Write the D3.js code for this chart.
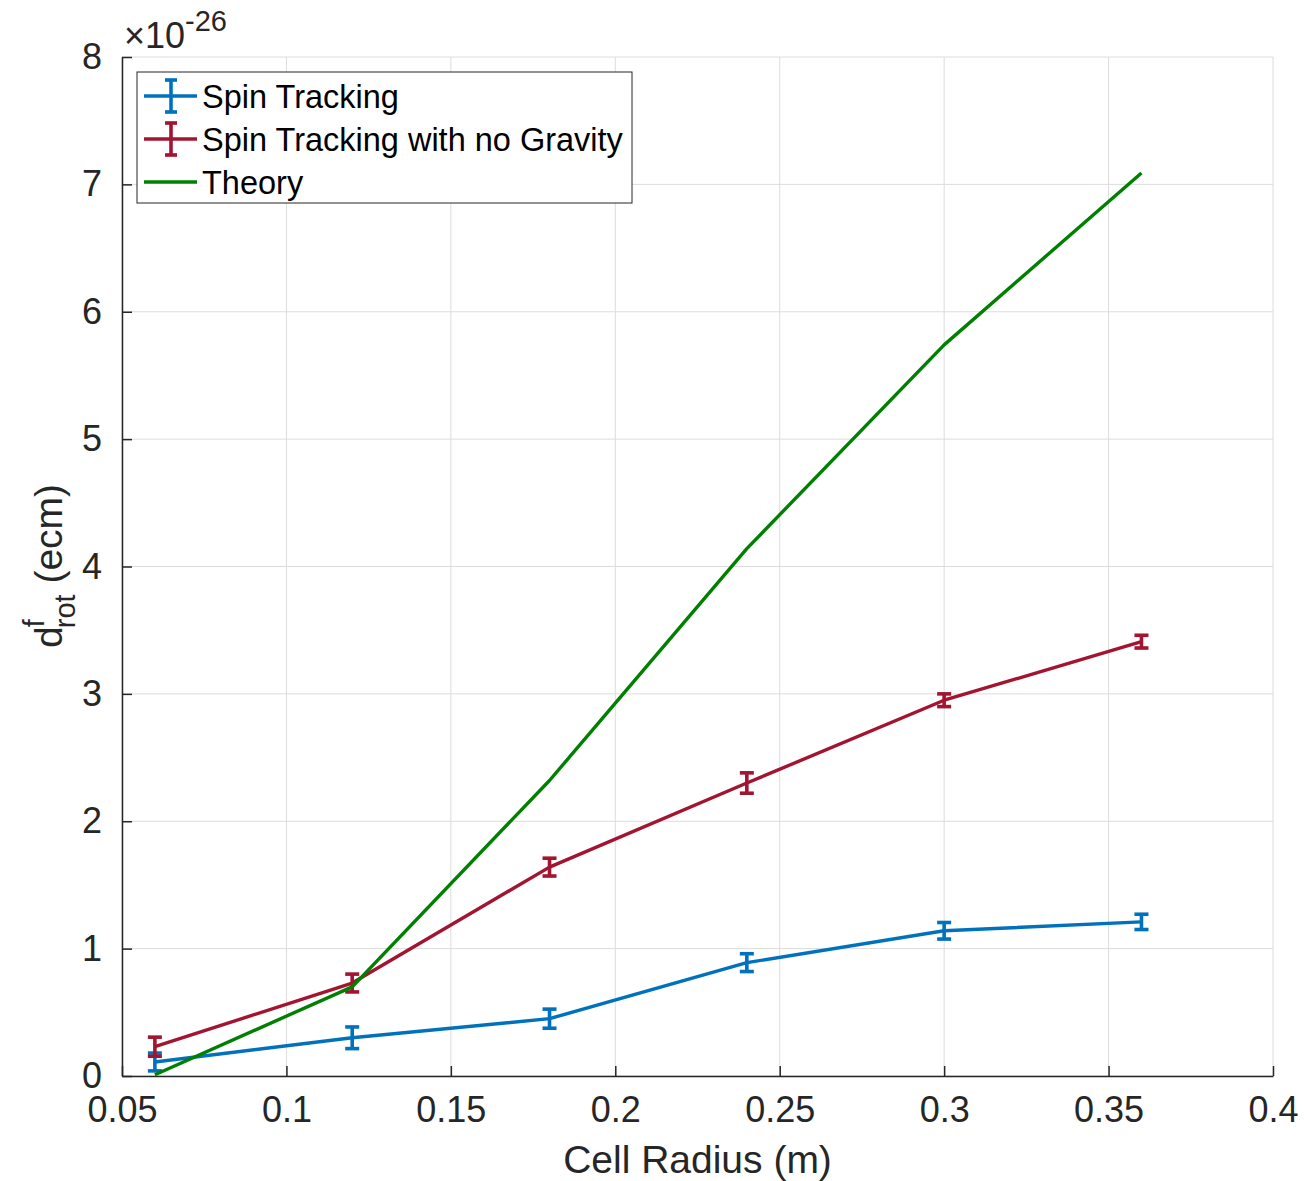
<!DOCTYPE html>
<html>
<head>
<meta charset="utf-8">
<script src="https://cdn.jsdelivr.net/npm/d3@7"></script>
<style>
  body { margin: 0; background: #fff; }
  svg { font-family: "Liberation Sans", Arial, sans-serif; }
</style>
</head>
<body>
<div id="chart"></div>
<script>
// cell radius (m)
var radius = [0.06, 0.12, 0.18, 0.24, 0.30, 0.36];
// values in units of 1e-26 ecm
var spinTracking = [0.11, 0.30, 0.45, 0.89, 1.14, 1.21];
var spinTrackingErr = [0.07, 0.085, 0.075, 0.07, 0.065, 0.06];
var noGravity = [0.23, 0.73, 1.64, 2.30, 2.95, 3.41];
var noGravityErr = [0.075, 0.07, 0.07, 0.08, 0.05, 0.05];
var theory = [0.01, 0.70, 2.32, 4.14, 5.74, 7.09];
var xTicks = [0.05, 0.1, 0.15, 0.2, 0.25, 0.3, 0.35, 0.4];
var yTicks = [0, 1, 2, 3, 4, 5, 6, 7, 8];

var W = 1304, H = 1181;
var m = {left: 122, right: 1304 - 1273, top: 57, bottom: H - 1076};

var svg = d3.select('#chart').append('svg')
    .attr('width', W)
    .attr('height', H);

var x = d3.scaleLinear().domain([0.05, 0.4]).range([m.left, W - m.right]);
var y = d3.scaleLinear().domain([0, 8]).range([H - m.bottom, m.top]);

var axisColor = '#262626';
var fs = 36;

// grid
svg.append('g').selectAll('line.gx')
    .data(xTicks).enter().append('line')
    .attr('x1', function (d) { return x(d); })
    .attr('x2', function (d) { return x(d); })
    .attr('y1', y(0)).attr('y2', y(8))
    .attr('stroke', '#dcdcdc').attr('stroke-width', 1);
svg.append('g').selectAll('line.gy')
    .data(yTicks).enter().append('line')
    .attr('x1', x(0.05)).attr('x2', x(0.4))
    .attr('y1', function (d) { return y(d); })
    .attr('y2', function (d) { return y(d); })
    .attr('stroke', '#dcdcdc').attr('stroke-width', 1);

// axes, ticks pointing inward like matlab
var xAxis = svg.append('g')
    .attr('transform', 'translate(0,' + y(0) + ')')
    .call(d3.axisBottom(x).tickValues(xTicks).tickSizeInner(-10).tickSizeOuter(0)
        .tickPadding(20).tickFormat(function (d) { return String(+d.toFixed(2)); }));
var yAxis = svg.append('g')
    .attr('transform', 'translate(' + x(0.05) + ',0)')
    .call(d3.axisLeft(y).tickValues(yTicks).tickSizeInner(-10).tickSizeOuter(0)
        .tickPadding(20).tickFormat(d3.format('d')));

[xAxis, yAxis].forEach(function (a) {
    a.select('.domain').attr('stroke', axisColor).attr('stroke-width', 1.5);
    a.selectAll('.tick line').attr('stroke', axisColor).attr('stroke-width', 1.5);
    a.selectAll('.tick text').attr('fill', axisColor)
        .style('font-size', fs + 'px')
        .style('font-family', '"Liberation Sans", Arial, sans-serif');
});
xAxis.selectAll('.tick text').attr('dy', '0.71em');

// exponent label
var expo = svg.append('text')
    .attr('x', 124).attr('y', 48)
    .attr('fill', axisColor)
    .style('font-size', fs + 'px');
expo.append('tspan').text('\u00d710');
expo.append('tspan').attr('dy', -17).style('font-size', '29px').text('-26');

// axis titles
svg.append('text')
    .attr('x', (x(0.05) + x(0.4)) / 2).attr('y', 1173)
    .attr('text-anchor', 'middle')
    .attr('fill', axisColor)
    .style('font-size', '39px')
    .text('Cell Radius (m)');

var yl = svg.append('text')
    .attr('transform', 'translate(62,' + 566 + ') rotate(-90)')
    .attr('text-anchor', 'middle')
    .attr('fill', axisColor)
    .style('font-size', '39px');
yl.append('tspan').text('d');
yl.append('tspan').attr('dy', -18).style('font-size', '29px').attr('dx', -1).text('f');
yl.append('tspan').attr('dy', 31).attr('dx', -9).style('font-size', '29px').text('rot');
yl.append('tspan').attr('dy', -13).text(' (ecm)');

// data series
var series = [
    {name: 'Spin Tracking', color: '#0072BD', vals: spinTracking, err: spinTrackingErr},
    {name: 'Spin Tracking with no Gravity', color: '#A2142F', vals: noGravity, err: noGravityErr},
    {name: 'Theory', color: '#008000', vals: theory, err: null}
];

var line = d3.line()
    .x(function (d) { return x(d[0]); })
    .y(function (d) { return y(d[1]); });

var capW = 14;

series.forEach(function (s) {
    var pts = radius.map(function (r, i) { return [r, s.vals[i]]; });
    svg.append('path')
        .datum(pts)
        .attr('d', line)
        .attr('fill', 'none')
        .attr('stroke', s.color)
        .attr('stroke-width', 3.4)
        .attr('stroke-linejoin', 'round');

    if (s.err) {
        var g = svg.append('g').attr('stroke', s.color).attr('stroke-width', 3.6);
        radius.forEach(function (r, i) {
            var cx = x(r), lo = y(s.vals[i] - s.err[i]), hi = y(s.vals[i] + s.err[i]);
            g.append('line').attr('x1', cx).attr('x2', cx).attr('y1', lo).attr('y2', hi);
            g.append('line').attr('x1', cx - capW / 2).attr('x2', cx + capW / 2).attr('y1', lo).attr('y2', lo);
            g.append('line').attr('x1', cx - capW / 2).attr('x2', cx + capW / 2).attr('y1', hi).attr('y2', hi);
        });
    }
});

// legend
var leg = svg.append('g').attr('transform', 'translate(137,72)');
leg.append('rect')
    .attr('width', 495).attr('height', 131)
    .attr('fill', '#fff')
    .attr('stroke', axisColor).attr('stroke-width', 1);

series.forEach(function (s, i) {
    var ly = 24 + i * 43;
    var row = leg.append('g').attr('transform', 'translate(0,' + ly + ')');
    row.append('line').attr('x1', 7).attr('x2', 60).attr('y1', 0).attr('y2', 0)
        .attr('stroke', s.color).attr('stroke-width', 3.4);
    if (s.err) {
        row.append('line').attr('x1', 34).attr('x2', 34).attr('y1', -16).attr('y2', 16)
            .attr('stroke', s.color).attr('stroke-width', 3.6);
        row.append('line').attr('x1', 28).attr('x2', 40).attr('y1', -16).attr('y2', -16)
            .attr('stroke', s.color).attr('stroke-width', 3.6);
        row.append('line').attr('x1', 28).attr('x2', 40).attr('y1', 16).attr('y2', 16)
            .attr('stroke', s.color).attr('stroke-width', 3.6);
    }
    row.append('text')
        .attr('x', 65).attr('y', 0).attr('dy', '0.36em')
        .attr('fill', '#000')
        .style('font-size', '32.5px')
        .text(s.name);
});
</script>
</body>
</html>
